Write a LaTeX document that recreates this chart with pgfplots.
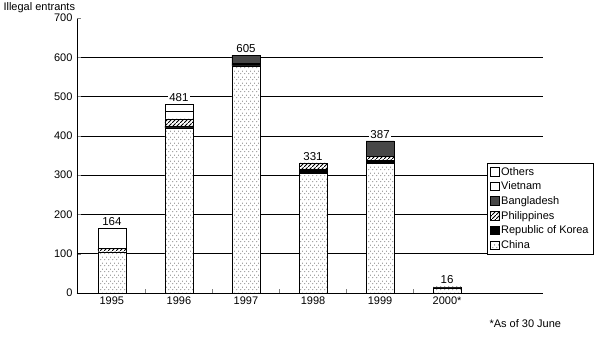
\documentclass[border=0pt]{standalone}
\usepackage{fontspec}
\setmainfont{Liberation Sans}
\usepackage{pgfplots}
\pgfplotsset{compat=1.18}
\usetikzlibrary{patterns}
\pgfdeclarepatternformonly{sparsedots}{\pgfpoint{0pt}{0pt}}{\pgfpoint{4pt}{6pt}}{\pgfpoint{4pt}{6pt}}{%
  \pgfpathcircle{\pgfpoint{1pt}{1.5pt}}{0.5pt}%
  \pgfpathcircle{\pgfpoint{3pt}{4.5pt}}{0.5pt}%
  \pgfusepath{fill}}
\pgfdeclarepatternformonly{hatch}{\pgfpoint{0pt}{0pt}}{\pgfpoint{4pt}{4pt}}{\pgfpoint{4pt}{4pt}}{%
  \pgfsetlinewidth{0.9pt}%
  \pgfpathmoveto{\pgfpoint{-0.5pt}{-0.5pt}}\pgfpathlineto{\pgfpoint{4.5pt}{4.5pt}}%
  \pgfusepath{stroke}}
\begin{document}
\begin{tikzpicture}[font=\fontsize{11}{13}\selectfont]
\begin{axis}[
  at={(0pt,0pt)}, anchor=south west,
  scale only axis, width=466pt, height=275pt,
  ybar stacked, bar width=28pt,
  legend image code/.code={\draw[#1] (0pt,-0.4em) rectangle (0.85em,0.45em);},
  xmin=-0.52, xmax=6.43, ymin=0, ymax=700,
  axis lines=left, axis line style={-, line width=0.6pt},
  tick align=inside,
  xtick={0.5,1.5,2.5,3.5,4.5}, xticklabels={},
  major tick length=4pt,
  extra x ticks={0,1,2,3,4,5},
  extra x tick labels={1995,1996,1997,1998,1999,2000*},
  extra x tick style={major tick length=0pt},
  ytick={0,100,...,600}, ymajorgrids,
  extra y ticks={700}, extra y tick style={grid=none},
  grid style={black, line width=0.5pt},
  yticklabel style={xshift=-1pt},
  /pgf/number format/assume math mode=true,
  /pgf/number format/1000 sep={},
  reverse legend,
  legend cell align=left,
  legend style={at={(rel axis cs:0.88,0.473)}, anchor=north west, draw=black,
    font=\fontsize{11}{13}\selectfont, row sep=1.2pt, inner xsep=3pt, inner ysep=2pt,
    fill=white},
]
\addplot[draw=black, fill=white, postaction={pattern=sparsedots}] coordinates {(0,105) (1,420) (2,578) (3,305) (4,330) (5,13)};
\addplot[draw=black, fill=black] coordinates {(0,0) (1,5) (2,5) (3,10) (4,7) (5,0)};
\addplot[draw=black, fill=white, postaction={pattern=hatch}] coordinates {(0,8) (1,18) (2,2) (3,16) (4,10) (5,3)};
\addplot[draw=black, fill=black!72] coordinates {(0,0) (1,0) (2,20) (3,0) (4,40) (5,0)};
\addplot[draw=black, fill=white] coordinates {(0,0) (1,20) (2,0) (3,0) (4,0) (5,0)};
\addplot[draw=black, fill=white] coordinates {(0,51) (1,18) (2,0) (3,0) (4,0) (5,0)};
\addplot[draw=none, fill=none, forget plot, point meta=explicit,
  nodes near coords={\pgfmathprintnumber[assume math mode=true]{\pgfplotspointmeta}},
  every node near coord/.append style={anchor=south, fill=white, inner sep=1.5pt, yshift=1pt, font=\fontsize{11.5}{13}\selectfont}]
  coordinates {(0,0.01)[164] (1,0.01)[481] (2,0.01)[605] (3,0.01)[331] (4,0.01)[387] (5,0.01)[16]};
\legend{China, Republic of Korea, Philippines, Bangladesh, Vietnam, Others}
\end{axis}
\node[anchor=west] at (-77pt,285pt) {Illegal entrants};
\node[anchor=west] at (409pt,-31pt) {*As of 30 June};
\pgfresetboundingbox
\useasboundingbox (-77pt,-46pt) rectangle (523pt,293pt);
\end{tikzpicture}
\end{document}
